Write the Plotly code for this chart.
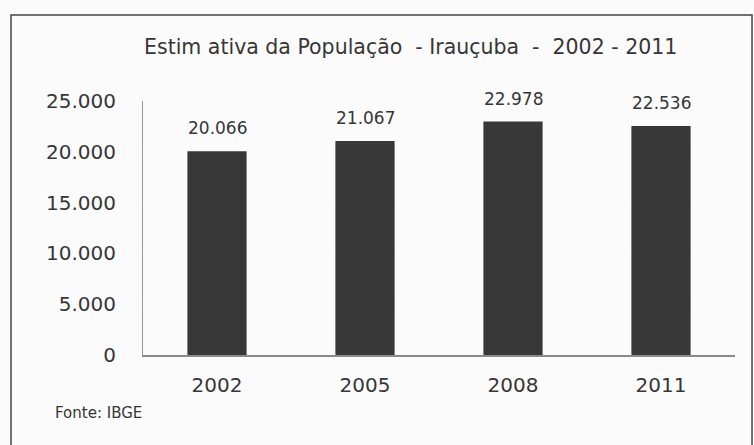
import plotly.graph_objects as go

years = ["2002", "2005", "2008", "2011"]
population = [20066, 21067, 22978, 22536]
y_ticks = [0, 5000, 10000, 15000, 20000, 25000]

W, H = 754, 445
L, R, T, B = 143, 19, 101, 90
pw, ph = W - L - R, H - T - B

def px_x(x):
    return (x - L) / pw

def px_y(y):
    return (H - B - y) / ph

FONT = "DejaVu Sans"
INK = "#363636"

fig = go.Figure()
fig.add_trace(go.Bar(
    x=years, y=population,
    marker=dict(color="#383838", line=dict(width=0)),
    width=0.4,
    hoverinfo="skip",
))

for i, v in enumerate(population):
    fig.add_annotation(x=i, y=v, text=f"{v:,}".replace(",", "."),
                       showarrow=False, yanchor="bottom", yshift=11,
                       font=dict(family=FONT, size=17, color=INK))

fig.add_annotation(xref="paper", yref="paper", x=px_x(410), y=px_y(47),
                   text="Estim ativa da População\u00a0\u00a0- Irauçuba\u00a0\u00a0-\u00a0\u00a02002 - 2011",
                   showarrow=False, xanchor="center", yanchor="middle",
                   font=dict(family=FONT, size=20.5, color=INK))
fig.add_annotation(xref="paper", yref="paper", x=px_x(53), y=px_y(413),
                   text="Fonte: IBGE", showarrow=False,
                   xanchor="left", yanchor="middle",
                   font=dict(family=FONT, size=15, color=INK))

fig.add_shape(type="rect", xref="paper", yref="paper",
              x0=px_x(11), x1=px_x(752), y0=px_y(455), y1=px_y(15),
              line=dict(color="#444444", width=1.5), layer="below")

fig.update_layout(
    width=W, height=H,
    margin=dict(l=L, r=R, t=T, b=B),
    paper_bgcolor="#fbfbfb", plot_bgcolor="rgba(0,0,0,0)",
    separators=",.",
    showlegend=False,
    bargap=0.6,
    font=dict(family=FONT, color=INK),
    xaxis=dict(
        type="category", range=[-0.5, len(years) - 0.5],
        showline=True, linecolor="#8a8a8a", linewidth=2,
        ticks="", ticklabelstandoff=11,
        tickfont=dict(size=20, color=INK),
        showgrid=False, zeroline=False,
        fixedrange=True,
    ),
    yaxis=dict(
        range=[0, 25000], tickvals=y_ticks, tickformat=",d",
        showline=True, linecolor="#9a9a9a", linewidth=1,
        ticks="", ticklabelstandoff=22,
        tickfont=dict(size=20, color=INK),
        showgrid=True, gridcolor="rgba(255,255,255,0.22)", gridwidth=2,
        layer="above traces",
        zeroline=False, fixedrange=True,
    ),
)

fig.write_html("out.html", config={"displayModeBar": False},
               post_script="document.body.style.margin='0';document.body.style.background='#fbfbfb';")
